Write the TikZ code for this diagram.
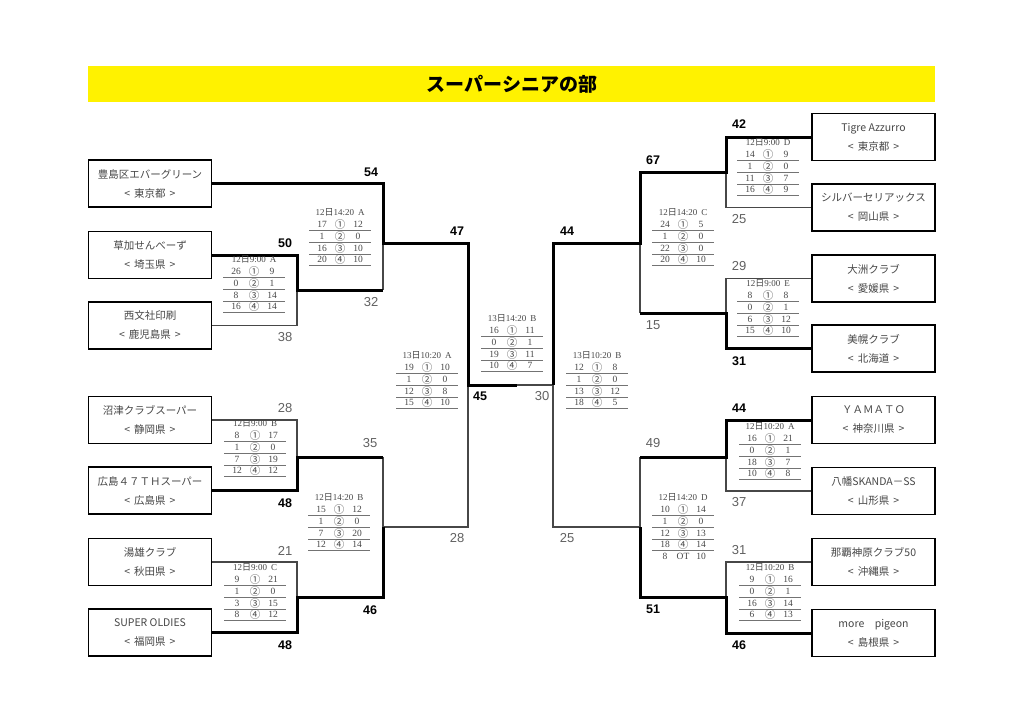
\documentclass[tikz,border=0pt]{standalone}
\usepackage{fontspec}
\setmainfont{Liberation Sans}
\newfontfamily\cjk{Noto Sans CJK JP}
\newfontfamily\ser{Liberation Serif}
\usetikzlibrary{calc}
\newcommand\hiji{{\cjk 日}}
\tikzset{
  team/.style={draw=black, line width=1.8pt, minimum width=123pt, minimum height=47pt, inner sep=0pt, align=center, font=\cjk\fontsize{10.5}{19}\selectfont, text=black!72},
  win/.style={line width=3pt, draw=black},
  lose/.style={line width=1.1pt, draw=black!72},
  bnum/.style={font=\bfseries\fontsize{12.5}{14}\selectfont, text=black, inner sep=0pt},
  nnum/.style={font=\fontsize{13}{14}\selectfont, text=black!62, inner sep=0pt},
  hdr/.style={font=\ser\fontsize{9}{10}\selectfont, text=black!72, inner sep=0pt},
  cell/.style={font=\ser\fontsize{9.5}{10}\selectfont, text=black!72, inner sep=0pt},
  cellc/.style={font=\cjk\fontsize{10.5}{11}\selectfont, text=black!72, inner sep=0pt},
  rowrule/.style={draw=black!55, line width=0.8pt},
}
\newcommand\mtab[4]{%
  \node[hdr] (#1) at (#2) {#3};
  \foreach \a/\c/\b [count=\i] in {#4} {
    \node[cell]  (#1-l\i) at ($(#1)+(-18,{\i*11.7+1})$) {\a};
    \node[cellc] (#1-m\i) at ($(#1)+(0,{\i*11.7+1})$) {\c};
    \node[cell]  (#1-r\i) at ($(#1)+(18,{\i*11.7+1})$) {\b};
    \draw[rowrule] ($(#1)+(-31,{\i*11.7+7})$) -- ++(62,0);
  }
}
\begin{document}
\begin{tikzpicture}[x=1pt,y=-1pt]
\useasboundingbox (0,0) rectangle (1024,724);
\fill[white] (0,0) rectangle (1024,724);
% title
\fill[yellow] (88,66) rectangle (935,102);
\node[font=\cjk\bfseries\fontsize{19}{21}\selectfont, inner sep=0pt] (title) at (512,84) {スーパーシニアの部};
% teams left
\node[team] (L1) at (150,183.5) {豊島区エバーグリーン\\<\hspace{4pt}東京都\hspace{4pt}>};
\node[team] (L2) at (150,255) {草加せんべーず\\<\hspace{4pt}埼玉県\hspace{4pt}>};
\node[team] (L3) at (150,325.5) {西文社印刷\\<\hspace{4pt}鹿児島県\hspace{4pt}>};
\node[team] (L4) at (150,420) {沼津クラブスーパー\\<\hspace{4pt}静岡県\hspace{4pt}>};
\node[team] (L5) at (150,490.5) {広島４７ＴＨスーパー\\<\hspace{4pt}広島県\hspace{4pt}>};
\node[team] (L6) at (150,562) {湯雄クラブ\\<\hspace{4pt}秋田県\hspace{4pt}>};
\node[team] (L7) at (150,632.5) {SUPER OLDIES\\<\hspace{4pt}福岡県\hspace{4pt}>};
% teams right
\node[team] (R1) at (873.5,137) {Tigre Azzurro\\<\hspace{4pt}東京都\hspace{4pt}>};
\node[team] (R2) at (873.5,207.5) {シルバーセリアックス\\<\hspace{4pt}岡山県\hspace{4pt}>};
\node[team] (R3) at (873.5,278.5) {大洲クラブ\\<\hspace{4pt}愛媛県\hspace{4pt}>};
\node[team] (R4) at (873.5,348.5) {美幌クラブ\\<\hspace{4pt}北海道\hspace{4pt}>};
\node[team] (R5) at (873.5,420) {ＹＡＭＡＴＯ\\<\hspace{4pt}神奈川県\hspace{4pt}>};
\node[team] (R6) at (873.5,491) {八幡SKANDA－SS\\<\hspace{4pt}山形県\hspace{4pt}>};
\node[team] (R7) at (873.5,562) {那覇神原クラブ50\\<\hspace{4pt}沖縄県\hspace{4pt}>};
\node[team] (R8) at (873.5,633) {more　pigeon\\<\hspace{4pt}島根県\hspace{4pt}>};
% junctions
\coordinate (jA) at (297,290);
\coordinate (jB) at (297,457);
\coordinate (jC) at (297,597);
\coordinate (kA) at (383,243);
\coordinate (kB) at (383,527);
\coordinate (sA) at (468,385);
\coordinate (fM) at (517,385);
\coordinate (sB) at (553,385);
\coordinate (kC) at (640,243);
\coordinate (kD) at (640,527);
\coordinate (jD) at (726,172);
\coordinate (jE) at (726,313);
\coordinate (jF) at (726,457);
\coordinate (jG) at (726,597);
% losing lines
\draw[lose] (L3.east) -| (jA);
\draw[lose] (jA -| kA) -- (kA);
\draw[lose] (L4.east) -| (jB);
\draw[lose] (jB -| kB) -- (kB);
\draw[lose] (L6.east) -| (jC);
\draw[lose] (kB) -| (sA);
\draw[lose] (fM) -- (sB);
\draw[lose] (R2.west) -| (jD);
\draw[lose] (R3.west) -| (jE);
\draw[lose] (jE -| kC) -- (kC);
\draw[lose] (R6.west) -| (jF);
\draw[lose] (R7.west) -| (jG);
\draw[lose] (jF -| kD) -- (kD);
\draw[lose] (kD) -| (sB);
% winning lines
\draw[win] (L2.east) -| (jA) -- (jA -| kA);
\draw[win] (L1.east) -| (kA) -| (sA) -- (fM);
\draw[win] (L5.east) -| (jB) -- (jB -| kB);
\draw[win] (L7.east) -| (jC) -- (jC -| kB) -- (kB);
\draw[win] (R1.west) -| (jD) -| (kC) -| (sB);
\draw[win] (R4.west) -| (jE) -- (jE -| kC);
\draw[win] (R5.west) -| (jF) -- (jF -| kD);
\draw[win] (R8.west) -| (jG) -- (jG -| kD) -- (kD);
% score labels bold
\node[bnum] (b1) at (371,172) {54};
\node[bnum] (b2) at (285,243) {50};
\node[bnum] (b3) at (457,231) {47};
\node[bnum] (b4) at (567,231) {44};
\node[bnum] (b5) at (480,396) {45};
\node[bnum] (b6) at (285,503) {48};
\node[bnum] (b7) at (370,610) {46};
\node[bnum] (b8) at (285,645) {48};
\node[bnum] (b9) at (739,124) {42};
\node[bnum] (b10) at (653,160) {67};
\node[bnum] (b11) at (739,361) {31};
\node[bnum] (b12) at (739,408) {44};
\node[bnum] (b13) at (653,609) {51};
\node[bnum] (b14) at (739,645) {46};
% score labels normal
\node[nnum] (n1) at (371,302) {32};
\node[nnum] (n2) at (285,337) {38};
\node[nnum] (n3) at (542,396) {30};
\node[nnum] (n4) at (457,538) {28};
\node[nnum] (n5) at (567,538) {25};
\node[nnum] (n6) at (285,408) {28};
\node[nnum] (n7) at (370,443) {35};
\node[nnum] (n8) at (285,551) {21};
\node[nnum] (n9) at (739,219) {25};
\node[nnum] (n10) at (739,266) {29};
\node[nnum] (n11) at (653,325) {15};
\node[nnum] (n12) at (653,443) {49};
\node[nnum] (n13) at (739,502) {37};
\node[nnum] (n14) at (739,550) {31};
% match tables
\mtab{tA}{340,212}{12\hiji 14:20\hspace{4pt}A}{17/①/12, 1/②/0, 16/③/10, 20/④/10}
\mtab{tB}{254,259}{12\hiji 9:00\hspace{4pt}A}{26/①/9, 0/②/1, 8/③/14, 16/④/14}
\mtab{tC}{255,423}{12\hiji 9:00\hspace{4pt}B}{8/①/17, 1/②/0, 7/③/19, 12/④/12}
\mtab{tD}{339,497}{12\hiji 14:20\hspace{4pt}B}{15/①/12, 1/②/0, 7/③/20, 12/④/14}
\mtab{tE}{255,567}{12\hiji 9:00\hspace{4pt}C}{9/①/21, 1/②/0, 3/③/15, 8/④/12}
\mtab{tF}{427,355}{13\hiji 10:20\hspace{4pt}A}{19/①/10, 1/②/0, 12/③/8, 15/④/10}
\mtab{tG}{512,318}{13\hiji 14:20\hspace{4pt}B}{16/①/11, 0/②/1, 19/③/11, 10/④/7}
\mtab{tH}{597,355}{13\hiji 10:20\hspace{4pt}B}{12/①/8, 1/②/0, 13/③/12, 18/④/5}
\mtab{tI}{768,142}{12\hiji 9:00\hspace{4pt}D}{14/①/9, 1/②/0, 11/③/7, 16/④/9}
\mtab{tJ}{683,212}{12\hiji 14:20\hspace{4pt}C}{24/①/5, 1/②/0, 22/③/0, 20/④/10}
\mtab{tK}{768,283}{12\hiji 9:00\hspace{4pt}E}{8/①/8, 0/②/1, 6/③/12, 15/④/10}
\mtab{tL}{770,426}{12\hiji 10:20\hspace{4pt}A}{16/①/21, 0/②/1, 18/③/7, 10/④/8}
\mtab{tM}{683,497}{12\hiji 14:20\hspace{4pt}D}{10/①/14, 1/②/0, 12/③/13, 18/④/14}
\node[cell] (tM-l5) at (665,556.5) {8};
\node[cell] (tM-m5) at (683,556.5) {OT};
\node[cell] (tM-r5) at (701,556.5) {10};
\mtab{tN}{770,567}{12\hiji 10:20\hspace{4pt}B}{9/①/16, 0/②/1, 16/③/14, 6/④/13}
\end{tikzpicture}
\end{document}
